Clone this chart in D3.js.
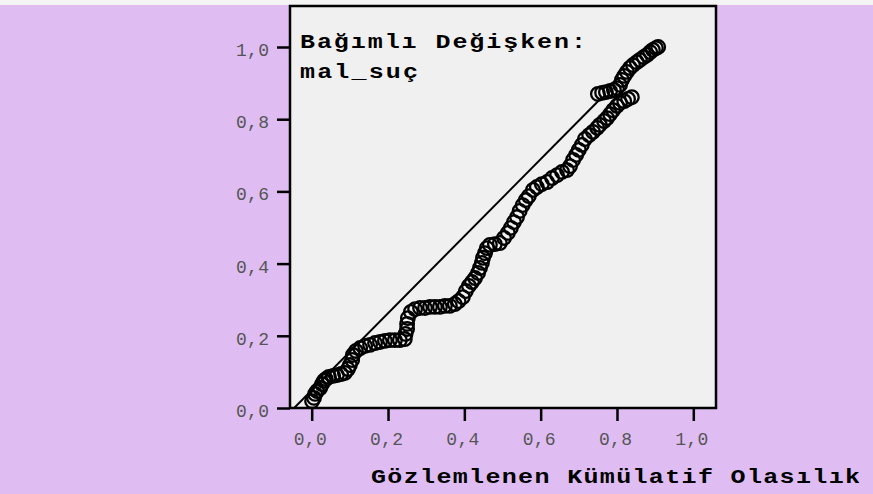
<!DOCTYPE html>
<html><head><meta charset="utf-8">
<script src="https://cdn.jsdelivr.net/npm/d3@7"></script>
<style>html,body{margin:0;padding:0;background:#fff;}svg{display:block;}</style>
</head><body>
<script>
const xTicks = [0, 0.2, 0.4, 0.6, 0.8, 1.0];
const yTicks = [0, 0.2, 0.4, 0.6, 0.8, 1.0];
const titleLines = ["Bağımlı Değişken:", "mal_suç"];
const xTitle = "Gözlemlenen Kümülatif Olasılık";

const obsX = [0.001,0.006,0.009,0.014,0.022,0.027,0.032,0.037,0.045,0.056,0.066,0.077,0.087,0.095,0.100,0.106,0.108,0.116,0.127,0.140,0.153,0.166,0.179,0.192,0.205,0.218,0.231,0.244,0.246,0.250,0.250,0.252,0.260,0.271,0.284,0.297,0.310,0.323,0.336,0.349,0.362,0.375,0.385,0.396,0.404,0.412,0.420,0.428,0.436,0.441,0.446,0.449,0.454,0.459,0.467,0.480,0.493,0.504,0.514,0.522,0.530,0.538,0.545,0.553,0.561,0.569,0.580,0.590,0.603,0.617,0.630,0.643,0.656,0.669,0.677,0.685,0.693,0.700,0.708,0.716,0.727,0.737,0.748,0.755,0.766,0.774,0.782,0.790,0.800,0.808,0.819,0.829,0.839,
  0.750,0.761,0.771,0.782,0.792,0.800,0.808,0.813,0.819,0.826,0.834,0.842,0.852,0.860,0.870,0.879,0.887,0.894,0.902,0.908];
const expY = [0.019,0.028,0.039,0.047,0.055,0.066,0.075,0.080,0.086,0.089,0.091,0.094,0.097,0.108,0.119,0.133,0.147,0.158,0.166,0.172,0.175,0.180,0.183,0.186,0.188,0.188,0.188,0.191,0.205,0.219,0.233,0.249,0.266,0.274,0.277,0.277,0.280,0.280,0.280,0.283,0.283,0.288,0.296,0.307,0.324,0.338,0.349,0.360,0.374,0.388,0.402,0.416,0.429,0.443,0.452,0.454,0.457,0.471,0.485,0.499,0.515,0.529,0.546,0.562,0.576,0.587,0.604,0.612,0.620,0.626,0.637,0.645,0.654,0.659,0.670,0.687,0.701,0.715,0.729,0.745,0.756,0.765,0.776,0.784,0.795,0.803,0.814,0.825,0.837,0.845,0.850,0.856,0.861,
  0.870,0.873,0.875,0.878,0.881,0.886,0.895,0.909,0.920,0.931,0.942,0.950,0.958,0.964,0.972,0.978,0.986,0.992,0.997,1.000];
const refLineX = [-0.046, 0.76];
const refLineY = [0, 0.86];

const W = 873, H = 494;
const svg = d3.select("body").append("svg").attr("width", W).attr("height", H);
svg.append("rect").attr("width", W).attr("height", H).attr("fill", "#dfbdf2");
svg.append("rect").attr("width", W).attr("height", 5).attr("fill", "#f4f4f4");

const x = d3.scaleLinear().domain([0, 1]).range([311.7, 693.3]);
const y = d3.scaleLinear().domain([0, 1]).range([408, 47]);
const pL = 290, pR = 716, pT = 6, pB = 408;

svg.append("rect").attr("x", pL).attr("y", pT).attr("width", pR - pL).attr("height", pB - pT)
  .attr("fill", "#f0f0f0").attr("stroke", "none");

const fmt = d => d.toFixed(1).replace(".", ",");
const mono = "'Liberation Mono','Courier New',monospace";

// axes
const gx = svg.append("g").attr("transform", `translate(0,${pB})`)
  .call(d3.axisBottom(x).tickValues(xTicks).tickFormat(fmt).tickSize(13).tickSizeOuter(0).tickPadding(12));
const gy = svg.append("g").attr("transform", `translate(${pL},0)`)
  .call(d3.axisLeft(y).tickValues(yTicks).tickFormat(fmt).tickSize(13).tickSizeOuter(0).tickPadding(8));
[gx, gy].forEach(g => {
  g.select(".domain").remove();
  g.selectAll(".tick line").attr("stroke", "#000").attr("stroke-width", 2.5);
  g.selectAll(".tick text").attr("fill", "#555").style("font-family", mono).style("font-size", "18px");
});
gx.selectAll(".tick text").attr("dy", null).attr("y", 37).attr("x", -2)
  .attr("textLength", 33).attr("lengthAdjust", "spacing");
gy.selectAll(".tick text").attr("dy", null).attr("y", 8.5).attr("x", -21)
  .attr("textLength", 33).attr("lengthAdjust", "spacing");

// clip for plot
svg.append("clipPath").attr("id", "clip").append("rect")
  .attr("x", pL).attr("y", pT).attr("width", pR - pL).attr("height", pB - pT);
const plot = svg.append("g").attr("clip-path", "url(#clip)");

plot.append("line")
  .attr("x1", x(refLineX[0])).attr("y1", y(refLineY[0]))
  .attr("x2", x(refLineX[1])).attr("y2", y(refLineY[1]))
  .attr("stroke", "#000").attr("stroke-width", 2);

plot.selectAll("circle").data(obsX.map((v, i) => [v, expY[i]])).join("circle")
  .attr("cx", d => x(d[0])).attr("cy", d => y(d[1])).attr("r", 6.8)
  .attr("fill", "none").attr("stroke", "#000").attr("stroke-width", 2.3);

// frame
svg.append("rect").attr("x", pL).attr("y", pT).attr("width", pR - pL).attr("height", pB - pT)
  .attr("fill", "none").attr("stroke", "#000").attr("stroke-width", 2.5);

// bold texts drawn slightly widened, like the reference's wide Courier
const sx = 1.25;
function wideText(str, tx, ty, len) {
  svg.append("g").attr("transform", `translate(${tx},${ty}) scale(${sx},1)`)
    .append("text").attr("x", 0).attr("y", 0).text(str)
    .attr("textLength", len / sx).attr("lengthAdjust", "spacing")
    .style("font-family", mono).style("font-weight", "bold").style("font-size", "20px").attr("fill", "#000");
}
wideText(titleLines[0], 300, 48, 286);
wideText(titleLines[1], 300, 78, 118);
wideText(xTitle, 371, 483, 489);
</script>
</body></html>
